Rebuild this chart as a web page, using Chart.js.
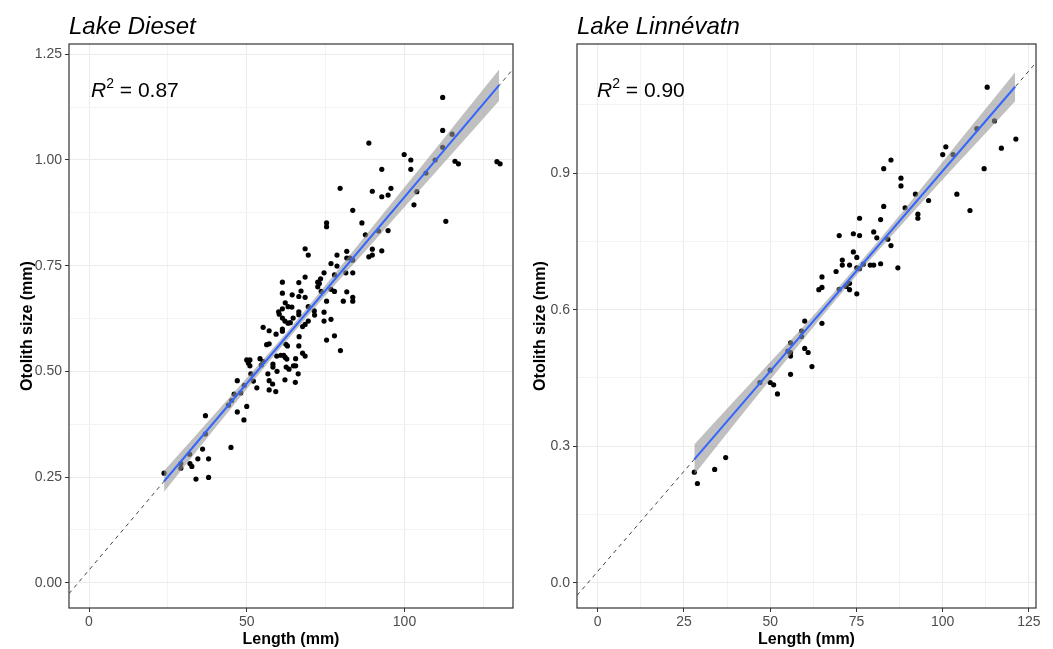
<!DOCTYPE html>
<html lang="en">
<head>
<meta charset="UTF-8">
<title>Otolith size vs length</title>
<script src="https://cdn.jsdelivr.net/npm/chart.js"></script>
<style>
  body { margin: 0; background: #fff; font-family: "Liberation Sans", Arial, sans-serif; }
  .wrap { position: relative; width: 1053px; height: 649px; overflow: hidden; }
  canvas { position: absolute; top: 0; }
  #dieset { left: 0; }
  #linne { left: 527px; }
  .lake { position: absolute; top: 14px; font-size: 24px; line-height: 24px; font-style: italic; color: #000; white-space: nowrap; }
  .r2 { position: absolute; top: 79px; font-size: 21px; line-height: 21px; color: #000; white-space: nowrap; }
  .r2 sup { font-size: 14px; line-height: 0; vertical-align: 9px; }
  .xtitle { position: absolute; top: 631px; font-size: 16px; line-height: 16px; font-weight: bold; text-align: center; color: #000; }
  .ytitle { position: absolute; top: 316px; width: 300px; height: 20px; line-height: 20px; font-size: 16px; font-weight: bold; text-align: center; color: #000; transform: rotate(-90deg); }
</style>
</head>
<body>
<div class="wrap">
  <canvas id="dieset" width="527" height="649"></canvas>
  <canvas id="linne" width="526" height="649"></canvas>

  <div class="lake" style="left:69px">Lake Dieset</div>
  <div class="lake" style="left:577px">Lake Linnévatn</div>
  <div class="r2" style="left:91px"><i>R</i><sup>2</sup> = 0.87</div>
  <div class="r2" style="left:597px"><i>R</i><sup>2</sup> = 0.90</div>
  <div class="xtitle" style="left:69px; width:444px">Length (mm)</div>
  <div class="xtitle" style="left:577px; width:459px">Length (mm)</div>
  <div class="ytitle" style="left:-123px">Otolith size (mm)</div>
  <div class="ytitle" style="left:390px">Otolith size (mm)</div>
</div>

<script>
// ---- Lake Dieset ----
const dieLength = [
  112.1, 112.1, 115.1, 112.1, 88.7, 99.9, 102.0, 102.0, 109.7, 116.0,
  117.1, 129.3, 130.3, 106.8, 92.8, 79.6, 89.8, 92.8, 94.8, 95.7,
  103.9, 103.0, 83.6, 113.1, 75.3, 75.3, 86.5, 87.6, 94.8, 91.8,
  68.5, 69.5, 78.6, 81.7, 89.8, 92.8, 88.7, 89.8, 81.7, 82.7,
  83.6, 76.7, 78.6, 74.5, 77.8, 81.4, 83.6, 68.5, 72.5, 73.4,
  73.0, 72.5, 67.2, 73.6, 76.7, 77.8, 81.7, 68.5, 75.3, 80.6,
  83.6, 83.6, 69.5, 71.4, 71.5, 74.5, 74.5, 76.7, 69.5, 68.5,
  67.7, 77.8, 75.3, 79.7, 67.7, 68.5,
  61.3, 66.5, 61.3, 66.5, 64.4, 62.2, 63.1, 64.3, 60.1, 60.3,
  61.3, 66.5, 66.5, 61.3, 62.1, 63.1, 63.8, 64.7, 55.2, 57.1,
  61.3, 61.3, 59.3, 66.6, 56.3, 57.1, 62.4, 62.9, 66.5, 59.5,
  60.8, 61.7, 62.2, 62.7, 65.5, 50.0, 51.0, 50.5, 54.2, 55.2,
  54.6, 51.0, 58.3, 58.3, 62.5, 63.4, 64.8, 65.5, 59.6, 56.7,
  66.3, 51.3, 47.0, 52.1, 49.2, 57.1, 58.2, 62.1, 65.4, 53.2,
  57.1, 59.2, 48.1, 46.0, 45.2, 44.2, 50.0, 47.0, 49.1, 36.9,
  36.9, 45.0, 36.0, 31.9, 34.5, 37.9, 32.0, 32.6, 29.1, 29.1,
  33.9, 37.9, 23.8
];
const dieOtolith = [
  1.148, 1.070, 1.061, 1.030, 1.040, 1.013, 1.000, 0.978, 1.000, 0.997,
  0.991, 0.996, 0.991, 0.969, 0.978, 0.933, 0.926, 0.913, 0.917, 0.933,
  0.925, 0.894, 0.881, 0.855, 0.851, 0.842, 0.851, 0.823, 0.833, 0.832,
  0.790, 0.775, 0.775, 0.784, 0.789, 0.785, 0.771, 0.775, 0.768, 0.768,
  0.763, 0.755, 0.749, 0.733, 0.728, 0.733, 0.733, 0.723, 0.711, 0.719,
  0.708, 0.700, 0.690, 0.689, 0.694, 0.689, 0.688, 0.675, 0.666, 0.666,
  0.675, 0.666, 0.653, 0.643, 0.633, 0.640, 0.619, 0.623, 0.619, 0.611,
  0.606, 0.584, 0.574, 0.549, 0.543, 0.536,
  0.711, 0.710, 0.685, 0.677, 0.681, 0.662, 0.653, 0.652, 0.641, 0.635,
  0.648, 0.641, 0.634, 0.626, 0.619, 0.614, 0.615, 0.626, 0.604, 0.596,
  0.600, 0.595, 0.588, 0.582, 0.563, 0.565, 0.564, 0.560, 0.560, 0.536,
  0.538, 0.538, 0.533, 0.529, 0.530, 0.527, 0.527, 0.520, 0.530, 0.523,
  0.515, 0.513, 0.517, 0.510, 0.510, 0.505, 0.513, 0.513, 0.500, 0.494,
  0.494, 0.494, 0.478, 0.477, 0.467, 0.478, 0.470, 0.480, 0.474, 0.461,
  0.456, 0.452, 0.449, 0.446, 0.431, 0.420, 0.417, 0.404, 0.385, 0.395,
  0.352, 0.320, 0.316, 0.304, 0.293, 0.293, 0.282, 0.275, 0.282, 0.271,
  0.245, 0.249, 0.259
];
const dieFitX = [23.8, 130.0];
const dieFitY = [0.240, 1.177];
const dieBandX = [23.8, 35, 45, 55, 64, 75, 90, 110, 130];
const dieBandHi = [0.265, 0.358, 0.442, 0.526, 0.604, 0.704, 0.843, 1.028, 1.214];
const dieBandLo = [0.215, 0.320, 0.412, 0.504, 0.584, 0.680, 0.805, 0.972, 1.140];
const dieDashX = [-6.34, 134.39];
const dieDashY = [-0.026, 1.215];
const dieXTicks = [0, 25, 50, 75, 100, 125];
const dieXLabels = ['0', '', '50', '', '100', ''];
const dieYTicks = [0, 0.125, 0.25, 0.375, 0.5, 0.625, 0.75, 0.875, 1.0, 1.125, 1.25];
const dieYLabels = ['0.00', '', '0.25', '', '0.50', '', '0.75', '', '1.00', '', '1.25'];

// ---- Lake Linnévatn ----
const linLength = [
  112.9, 115.0, 109.9, 121.2, 117.0, 112.0, 100.9, 100.0, 103.0, 104.1,
  107.9, 85.0, 82.9, 87.9, 87.9, 92.1, 95.9, 89.1, 92.8, 92.8,
  82.9, 82.0, 75.9, 80.0, 80.9, 84.1, 85.0, 70.0, 74.1, 75.9,
  74.1, 75.1, 70.9, 70.9, 73.0, 75.1, 75.9, 77.0, 79.0, 80.0,
  82.0, 87.0, 69.1, 65.0, 65.0, 64.1, 70.0, 72.0, 73.0, 73.0,
  75.1, 60.0, 65.0, 59.1, 59.1, 55.9, 55.1, 55.9, 55.9, 60.0,
  61.0, 62.1, 55.9, 50.0, 47.0, 50.0, 51.0, 52.1, 37.1, 33.9,
  28.0, 28.9
];
const linOtolith = [
  1.089, 1.015, 0.998, 0.975, 0.955, 0.910, 0.958, 0.941, 0.941, 0.854,
  0.818, 0.929, 0.910, 0.889, 0.872, 0.854, 0.840, 0.824, 0.810, 0.801,
  0.827, 0.798, 0.801, 0.771, 0.758, 0.755, 0.741, 0.763, 0.767, 0.763,
  0.727, 0.715, 0.709, 0.698, 0.698, 0.692, 0.690, 0.700, 0.698, 0.698,
  0.701, 0.692, 0.684, 0.672, 0.649, 0.644, 0.645, 0.651, 0.658, 0.644,
  0.635, 0.575, 0.570, 0.553, 0.541, 0.527, 0.509, 0.506, 0.498, 0.515,
  0.506, 0.475, 0.458, 0.467, 0.440, 0.440, 0.435, 0.415, 0.275, 0.249,
  0.243, 0.218
];
const linFitX = [28.0, 121.0];
const linFitY = [0.271, 1.090];
const linBandX = [28, 40, 50, 62, 75, 88, 100, 110, 121];
const linBandHi = [0.304, 0.403, 0.485, 0.583, 0.695, 0.812, 0.925, 1.019, 1.122];
const linBandLo = [0.238, 0.352, 0.446, 0.557, 0.675, 0.786, 0.886, 0.968, 1.058];
const linDashX = [-6.0, 127.04];
const linDashY = [-0.028, 1.143];
const linXTicks = [0, 12.5, 25, 37.5, 50, 62.5, 75, 87.5, 100, 112.5, 125];
const linXLabels = ['0', '', '25', '', '50', '', '75', '', '100', '', '125'];
const linYTicks = [0, 0.15, 0.3, 0.45, 0.6, 0.75, 0.9, 1.05];
const linYLabels = ['0.0', '', '0.3', '', '0.6', '', '0.9', ''];

const FONT = 'Liberation Sans, Arial, sans-serif';

function pairs(xs, ys) {
  return xs.map((x, i) => ({ x: x, y: ys[i] }));
}

// panel frame drawn on top of everything (ggplot theme_bw look)
const panelBorder = {
  id: 'panelBorder',
  afterDraw(chart) {
    const a = chart.chartArea;
    const ctx = chart.ctx;
    ctx.save();
    ctx.strokeStyle = '#333333';
    ctx.lineWidth = 1.2;
    ctx.strokeRect(a.left, a.top, a.right - a.left, a.bottom - a.top);
    ctx.restore();
  }
};

function axis(min, max, ticks, labels, isX, size) {
  const major = c => labels[c.index] !== '';
  return {
    type: 'linear',
    min: min,
    max: max,
    afterBuildTicks: s => { s.ticks = ticks.map(v => ({ value: v })); },
    afterFit: s => { if (isX) s.height = size; else s.width = size; },
    border: { display: false },
    grid: {
      color: c => major(c) ? '#EBEBEB' : '#F3F3F3',
      lineWidth: 1,
      tickLength: 4,
      tickWidth: 1,
      tickColor: c => major(c) ? '#333333' : 'rgba(0,0,0,0)'
    },
    ticks: {
      autoSkip: false,
      maxRotation: 0,
      minRotation: 0,
      padding: isX ? 2 : 3,
      color: '#4D4D4D',
      font: { family: FONT, size: 14 },
      callback: (v, i) => labels[i]
    }
  };
}

function makePanel(id, p) {
  new Chart(document.getElementById(id), {
    type: 'scatter',
    data: {
      datasets: [
        {
          label: 'fit',
          data: pairs(p.fitX, p.fitY),
          showLine: true,
          borderColor: '#3366FF',
          borderWidth: 2,
          pointRadius: 0,
          order: 0
        },
        {
          label: 'ci upper',
          data: pairs(p.bandX, p.bandHi),
          showLine: true,
          borderColor: 'rgba(0,0,0,0)',
          borderWidth: 0,
          pointRadius: 0,
          cubicInterpolationMode: 'monotone',
          fill: '+1',
          backgroundColor: 'rgba(150,150,150,0.6)',
          order: 1
        },
        {
          label: 'ci lower',
          data: pairs(p.bandX, p.bandLo),
          showLine: true,
          borderColor: 'rgba(0,0,0,0)',
          borderWidth: 0,
          pointRadius: 0,
          cubicInterpolationMode: 'monotone',
          fill: false,
          order: 1
        },
        {
          label: 'extended',
          data: pairs(p.dashX, p.dashY),
          showLine: true,
          borderColor: '#444444',
          borderWidth: 1,
          borderDash: [4, 4],
          pointRadius: 0,
          order: 2
        },
        {
          label: 'fish',
          data: pairs(p.len, p.oto),
          pointRadius: 2.6,
          pointBackgroundColor: '#000000',
          pointBorderWidth: 0,
          order: 3
        }
      ]
    },
    options: {
      responsive: false,
      animation: false,
      layout: { padding: { left: 0, top: 44, right: p.padRight, bottom: 0 } },
      plugins: {
        legend: { display: false },
        tooltip: { enabled: false }
      },
      scales: {
        x: axis(p.xr[0], p.xr[1], p.xTicks, p.xLabels, true, 41),
        y: axis(p.yr[0], p.yr[1], p.yTicks, p.yLabels, false, p.yWidth)
      }
    },
    plugins: [panelBorder]
  });
}

makePanel('dieset', {
  len: dieLength, oto: dieOtolith,
  fitX: dieFitX, fitY: dieFitY,
  bandX: dieBandX, bandHi: dieBandHi, bandLo: dieBandLo,
  dashX: dieDashX, dashY: dieDashY,
  xr: [-6.34, 134.39], yr: [-0.0599, 1.2744],
  xTicks: dieXTicks, xLabels: dieXLabels,
  yTicks: dieYTicks, yLabels: dieYLabels,
  yWidth: 69, padRight: 14
});

makePanel('linne', {
  len: linLength, oto: linOtolith,
  fitX: linFitX, fitY: linFitY,
  bandX: linBandX, bandHi: linBandHi, bandLo: linBandLo,
  dashX: linDashX, dashY: linDashY,
  xr: [-6.0, 127.04], yr: [-0.0556, 1.184],
  xTicks: linXTicks, xLabels: linXLabels,
  yTicks: linYTicks, yLabels: linYLabels,
  yWidth: 50, padRight: 17
});
</script>
</body>
</html>
